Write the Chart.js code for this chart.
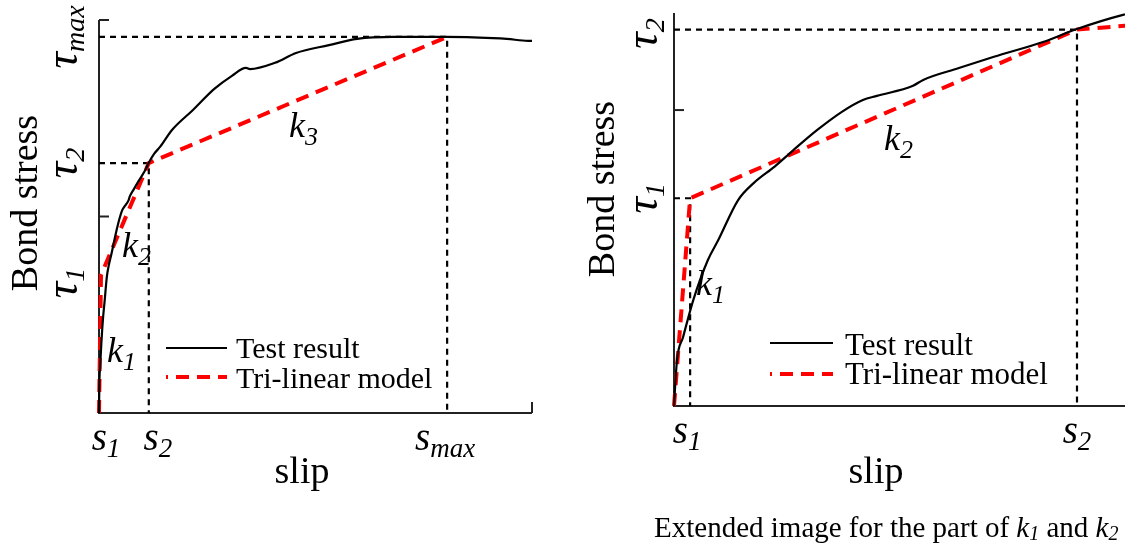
<!DOCTYPE html>
<html lang="en">
<head>
<meta charset="utf-8">
<title>Bond stress - slip: test result and tri-linear model</title>
<script src="https://cdn.jsdelivr.net/npm/chart.js"></script>
<style>
  body { margin: 0; background: #fff; width: 1125px; height: 544px; position: relative; overflow: hidden; }
  .panel { position: absolute; top: 0; height: 544px; }
  #left { left: 0; width: 560px; }
  #right { left: 560px; width: 565px; }
</style>
</head>
<body>
<div class="panel" id="left"><canvas id="chartLeft" width="560" height="544"></canvas></div>
<div class="panel" id="right"><canvas id="chartRight" width="565" height="544"></canvas></div>
<script>
// measured bond stress - slip curve
var testSlip = [0, 0.0014, 0.0086, 0.026, 0.055, 0.097, 0.126, 0.183, 0.228, 0.288, 0.340, 0.408,
  0.479, 0.539, 0.579, 0.682, 0.711, 0.813, 0.913, 1.053, 1.150, 1.276, 1.41, 1.686, 2.17, 2.656,
  3.07, 3.395, 3.487, 4.065, 4.55, 5.31, 5.96, 6.79, 8.01, 9.10, 9.42, 9.91, 10.0];
var testStress = [0, 0.152, 0.777, 1.166, 1.79, 2.47, 2.80, 3.48, 3.77, 4.05, 4.32, 4.66,
  4.97, 5.17, 5.24, 5.41, 5.51, 5.71, 5.90, 6.15, 6.37, 6.60, 6.77, 7.20, 7.71, 8.24,
  8.58, 8.78, 8.75, 8.91, 9.16, 9.36, 9.52, 9.57, 9.57, 9.54, 9.52, 9.47, 9.47];

// tri-linear model: origin, (s1, tau1), (s2, tau2), (smax, taumax)
var modelSlip = [0, 0.046, 1.15, 8.04];
var modelStress = [0, 3.51, 6.36, 9.57];

var stressTicks = [0, 5, 10];
var slipTicks = [0, 10];

var serif = '"Liberation Serif", "Times New Roman", serif';

function pts(xs, ys) {
  return xs.map(function (x, i) { return { x: x, y: ys[i] }; });
}

// dashed guide from the y axis to a model point and down to the x axis
function guide(i) {
  return [{ x: 0, y: modelStress[i] }, { x: modelSlip[i], y: modelStress[i] }, { x: modelSlip[i], y: 0 }];
}

// draws a row of text pieces (base letter, subscript...) one after the other
function runs(ctx, parts, x, y, align) {
  var w = 0;
  parts.forEach(function (p) {
    ctx.font = (p.it ? 'italic ' : '') + p.size + 'px ' + serif;
    p.w = ctx.measureText(p.t).width;
    w += p.w;
  });
  var cx = align === 'center' ? x - w / 2 : x;
  parts.forEach(function (p) {
    ctx.font = (p.it ? 'italic ' : '') + p.size + 'px ' + serif;
    ctx.fillText(p.t, cx, y + (p.dy || 0));
    cx += p.w;
  });
}

function sym(base, sub, size, subSize, drop) {
  return [{ t: base, size: size, it: true }, { t: sub, size: subSize, it: true, dy: drop }];
}

function legend(ctx, x0, x1, y0, y1, tx, b0, b1, size) {
  ctx.save();
  ctx.strokeStyle = '#000';
  ctx.lineWidth = 2;
  ctx.beginPath(); ctx.moveTo(x0, y0); ctx.lineTo(x1, y0); ctx.stroke();
  ctx.strokeStyle = '#ff0000';
  ctx.lineWidth = 4;
  ctx.setLineDash([13, 8]);
  ctx.lineDashOffset = 11;
  ctx.beginPath(); ctx.moveTo(x0, y1); ctx.lineTo(x1, y1); ctx.stroke();
  ctx.restore();
  ctx.fillStyle = '#000';
  runs(ctx, [{ t: 'Test result', size: size }], tx, b0, 'left');
  runs(ctx, [{ t: 'Tri-linear model', size: size }], tx, b1, 'left');
}

var axesPlugin = {
  id: 'bondAxes',
  beforeDatasetsDraw: function (chart) {
    var ctx = chart.ctx, a = chart.chartArea;
    var xs = chart.scales.x, ys = chart.scales.y;
    ctx.save();
    ctx.strokeStyle = '#222';
    ctx.lineWidth = 2;
    ctx.beginPath();
    ctx.moveTo(a.left, a.top); ctx.lineTo(a.left, a.bottom); ctx.lineTo(a.right, a.bottom);
    ctx.stroke();
    // inward ticks
    stressTicks.forEach(function (v) {
      if (v > ys.max) return;
      var y = ys.getPixelForValue(v);
      ctx.beginPath(); ctx.moveTo(a.left, y); ctx.lineTo(a.left + 10, y); ctx.stroke();
    });
    slipTicks.forEach(function (v) {
      if (v > xs.max) return;
      var x = xs.getPixelForValue(v);
      ctx.beginPath(); ctx.moveTo(x, a.bottom); ctx.lineTo(x, a.bottom - 11); ctx.stroke();
    });
    ctx.restore();
  },
  afterDraw: function (chart) {
    var o = chart.options.plugins.bondAxes;
    var ctx = chart.ctx, a = chart.chartArea;
    var xs = chart.scales.x, ys = chart.scales.y;
    ctx.save();
    ctx.fillStyle = '#000';
    ctx.textBaseline = 'alphabetic';

    // stress values along the y axis, rotated
    o.yLabels.forEach(function (l) {
      var y = ys.getPixelForValue(modelStress[l.i]);
      ctx.save();
      ctx.translate(a.left - o.yLabelGap, y + (l.dy || 0));
      ctx.rotate(-Math.PI / 2);
      runs(ctx, sym('\u03C4', l.sub, 46, 28, 7), 0, 0, 'center');
      ctx.restore();
    });

    // slip values under the x axis
    o.xLabels.forEach(function (l) {
      var x = xs.getPixelForValue(modelSlip[l.i]);
      runs(ctx, sym('s', l.sub, 39, 27, 7), x + (l.dx || 0), a.bottom + 37, 'center');
    });

    // stiffness labels
    o.kLabels.forEach(function (l) {
      runs(ctx, sym('k', l.sub, 36, 26, 8), l.x, l.y, 'left');
    });

    // axis titles
    runs(ctx, [{ t: 'slip', size: 38 }], o.slipX, 483, 'center');
    ctx.save();
    ctx.translate(o.stressX, o.stressY);
    ctx.rotate(-Math.PI / 2);
    runs(ctx, [{ t: 'Bond stress', size: 38 }], 0, 0, 'center');
    ctx.restore();

    var g = o.legend;
    legend(ctx, g.x0, g.x1, g.y0, g.y1, g.tx, g.b0, g.b1, g.size);

    if (o.caption) {
      runs(ctx, [
        { t: 'Extended image for the part of ', size: 29 },
        { t: 'k', size: 29, it: true }, { t: '1', size: 20, it: true, dy: 3 },
        { t: ' and ', size: 29 },
        { t: 'k', size: 29, it: true }, { t: '2', size: 20, it: true, dy: 3 }
      ], o.caption.x, o.caption.y, 'left');
    }
    ctx.restore();
  }
};

function makeChart(id, xMax, yMax, guides, pad, labels) {
  var datasets = [
    {
      label: 'Test result',
      data: pts(testSlip, testStress),
      borderColor: '#000',
      borderWidth: 2.2,
      pointRadius: 0,
      cubicInterpolationMode: 'monotone'
    },
    {
      label: 'Tri-linear model',
      data: pts(modelSlip, modelStress),
      borderColor: '#ff0000',
      borderWidth: 4,
      borderDash: [13, 8],
      pointRadius: 0,
      tension: 0
    }
  ];
  guides.forEach(function (i) {
    datasets.push({
      label: 'guide',
      data: guide(i),
      borderColor: '#000',
      borderWidth: 2.2,
      borderDash: [6, 5],
      pointRadius: 0,
      tension: 0
    });
  });
  // guides underneath the curves
  datasets.forEach(function (d, i) { d.order = i < 2 ? 0 : 1; });

  return new Chart(document.getElementById(id), {
    type: 'line',
    data: { datasets: datasets },
    options: {
      responsive: false,
      animation: false,
      devicePixelRatio: 1,
      clip: 8,
      layout: { padding: pad },
      scales: {
        x: { type: 'linear', min: 0, max: xMax, display: false },
        y: { type: 'linear', min: 0, max: yMax, display: false }
      },
      plugins: {
        legend: { display: false },
        tooltip: { enabled: false },
        bondAxes: labels
      }
    },
    plugins: [axesPlugin]
  });
}

// full curve
makeChart('chartLeft', 10, 10, [3, 2], { left: 99, right: 28, top: 20, bottom: 131 }, {
  yLabelGap: 22,
  yLabels: [{ i: 3, sub: 'max' }, { i: 2, sub: '2' }, { i: 1, sub: '1', dy: 8 }],
  xLabels: [{ i: 1, sub: '1', dx: 5 }, { i: 2, sub: '2', dx: 9 }, { i: 3, sub: 'max', dx: -2 }],
  kLabels: [{ x: 107, y: 362, sub: '1' }, { x: 122, y: 257, sub: '2' }, { x: 289, y: 137, sub: '3' }],
  slipX: 302, stressX: 37, stressY: 203,
  legend: { x0: 166, x1: 227, y0: 348, y1: 377, tx: 236, b0: 358, b1: 388, size: 30 }
});

// close-up of the k1 and k2 branches
makeChart('chartRight', 1.287, 6.64, [1, 2], { left: 114, right: 0, top: 13, bottom: 138 }, {
  yLabelGap: 17,
  yLabels: [{ i: 2, sub: '2', dy: 4 }, { i: 1, sub: '1' }],
  xLabels: [{ i: 1, sub: '1', dx: -3 }, { i: 2, sub: '2' }],
  kLabels: [{ x: 136, y: 295, sub: '1' }, { x: 324, y: 150, sub: '2' }],
  slipX: 316, stressX: 54, stressY: 189,
  legend: { x0: 210, x1: 273, y0: 343, y1: 374, tx: 285, b0: 355, b1: 384, size: 31 },
  caption: { x: 94, y: 537 }
});
</script>
</body>
</html>
